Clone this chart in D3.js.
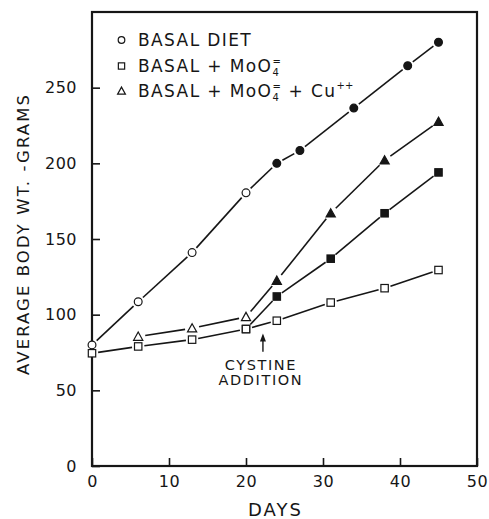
<!DOCTYPE html>
<html>
<head>
<meta charset="utf-8">
<script src="https://cdn.jsdelivr.net/npm/d3@7"></script>
<style>
  body { margin: 0; background: #fff; }
  text { font-family: "DejaVu Sans", sans-serif; fill: #161616; white-space: pre; }
</style>
</head>
<body>
<div id="chart"></div>
<script>
// values (days, grams)
const basalDays = [0, 6, 13, 20, 24, 27, 34, 41, 45]
const basalWt   = [80, 108.5, 141, 180.5, 200, 208.5, 236.5, 264.5, 280]

const moDays = [0, 6, 13, 20, 24, 31, 38, 45]
const moWt   = [74.5, 79, 83.5, 90.5, 96, 108, 117.5, 129.5]

const moCysDays = [20, 24, 31, 38, 45]
const moCysWt   = [90.5, 112, 137, 167, 194]

const cuDays = [6, 13, 20, 24, 31, 38, 45]
const cuWt   = [85.5, 91, 98.5, 122.5, 167, 202, 227.5]

const cystineDay = 22.2

const xTicks = [0, 10, 20, 30, 40, 50]
const yTicks = [0, 50, 100, 150, 200, 250]

const W = 489, H = 519
const margin = {top: 12, right: 12, bottom: 53, left: 92}
const width  = W - margin.left - margin.right
const height = H - margin.top - margin.bottom
const ink = "#161616"

let svg = d3.select("#chart").append("svg")
  .attr("width", W).attr("height", H)
  .append("g")
  .attr("transform", "translate(" + margin.left + "," + margin.top + ")")

let x = d3.scaleLinear().domain([0, 50]).range([0, width])
let y = d3.scaleLinear().domain([0, 300]).range([height, 0])

// axes, ticks pointing into the plot
let xAxis = svg.append("g")
  .attr("transform", "translate(0," + height + ")")
  .call(d3.axisBottom(x).tickValues(xTicks).tickSizeInner(-8).tickSizeOuter(0).tickPadding(10))
let yAxis = svg.append("g")
  .call(d3.axisLeft(y).tickValues(yTicks).tickSizeInner(-8).tickSizeOuter(0).tickPadding(15))

;[xAxis, yAxis].forEach(a => {
  a.select(".domain").remove()
  a.selectAll("line").attr("stroke", ink).attr("stroke-width", 1.6)
  a.selectAll("text").attr("font-size", 16).attr("fill", ink)
    .style("letter-spacing", "0.5px")
})

// frame
svg.append("rect")
  .attr("width", width).attr("height", height)
  .attr("fill", "none").attr("stroke", ink).attr("stroke-width", 2.2)

// axis titles
svg.append("text")
  .attr("x", x(25) - 9).attr("y", height + 50)
  .attr("text-anchor", "middle").attr("font-size", 18)
  .style("letter-spacing", "2px")
  .text("DAYS")

svg.append("text")
  .attr("transform", "translate(" + (28.5 - margin.left) + "," + (235 - margin.top) + ") rotate(-90)")
  .attr("text-anchor", "middle").attr("font-size", 16.5)
  .attr("textLength", 280).attr("lengthAdjust", "spacing")
  .text("AVERAGE BODY WT. -GRAMS")

// marker shapes
const markerSize = {circle: 3.9, square: 3.7, triangle: 4.6}

function drawMarker(g, shape, cx, cy, filled, k = 1) {
  let fill = filled ? ink : "#fff"
  if (shape === "circle") {
    g.append("circle").attr("cx", cx).attr("cy", cy).attr("r", markerSize.circle * k)
      .attr("fill", fill).attr("stroke", ink).attr("stroke-width", 1.2)
  } else if (shape === "square") {
    let s = markerSize.square * k
    g.append("rect").attr("x", cx - s).attr("y", cy - s).attr("width", 2 * s).attr("height", 2 * s)
      .attr("fill", fill).attr("stroke", ink).attr("stroke-width", 1.2)
  } else {
    let s = markerSize.triangle * k
    g.append("path")
      .attr("d", "M" + cx + "," + (cy - s) + "L" + (cx + s) + "," + (cy + s * 0.8) + "L" + (cx - s) + "," + (cy + s * 0.8) + "Z")
      .attr("fill", fill).attr("stroke", ink).attr("stroke-width", 1.2)
  }
}

// a series: segments stop short of each marker, like the hand drawn original
function drawSeries(days, wts, shape, fillAfterCystine) {
  let g = svg.append("g")
  let pts = days.map((d, i) => [x(d), y(wts[i])])
  let gap = markerSize[shape] + 2.5
  for (let i = 0; i < pts.length - 1; i++) {
    let [x0, y0] = pts[i], [x1, y1] = pts[i + 1]
    let len = Math.hypot(x1 - x0, y1 - y0)
    let ux = (x1 - x0) / len, uy = (y1 - y0) / len
    g.append("line")
      .attr("x1", x0 + ux * gap).attr("y1", y0 + uy * gap)
      .attr("x2", x1 - ux * gap).attr("y2", y1 - uy * gap)
      .attr("stroke", ink).attr("stroke-width", 1.6)
  }
  pts.forEach((p, i) => drawMarker(g, shape, p[0], p[1], fillAfterCystine && days[i] > cystineDay))
}

drawSeries(basalDays, basalWt, "circle", true)
drawSeries(moDays, moWt, "square", false)
drawSeries(moCysDays, moCysWt, "square", true)
drawSeries(cuDays, cuWt, "triangle", true)

// cystine addition arrow
let ax = x(cystineDay)
svg.append("line")
  .attr("x1", ax).attr("x2", ax)
  .attr("y1", y(75.5)).attr("y2", y(86))
  .attr("stroke", ink).attr("stroke-width", 1.4)
svg.append("path")
  .attr("d", "M" + ax + "," + y(87.5) + "l-3,8l6,0Z")
  .attr("fill", ink)
svg.append("text")
  .attr("x", ax - 2).attr("y", y(63.5))
  .attr("text-anchor", "middle").attr("font-size", 14.5)
  .style("letter-spacing", "1.6px")
  .text("CYSTINE")
svg.append("text")
  .attr("x", ax - 2).attr("y", y(53.5))
  .attr("text-anchor", "middle").attr("font-size", 14.5)
  .style("letter-spacing", "1.6px")
  .text("ADDITION")

// legend
let legend = svg.append("g").attr("transform", "translate(" + (121.5 - margin.left) + ",0)")
const legendRows = [
  {shape: "circle", yy: 28, base: 34},
  {shape: "square", yy: 54, base: 60},
  {shape: "triangle", yy: 79, base: 84.5}
]
legendRows.forEach(r => drawMarker(legend, r.shape, 0, r.yy, false, 0.85))

function legendText(parts, base) {
  let cx = 16.5
  parts.forEach(p => {
    if (p.sup !== undefined) {
      // stacked superscript / subscript (MoO4 with charge)
      let a = legend.append("text").attr("x", cx).attr("y", base - 7).attr("font-size", 10).text(p.sup)
      let b = legend.append("text").attr("x", cx).attr("y", base + 4).attr("font-size", 10).text(p.sub)
      cx += Math.max(a.node().getComputedTextLength(), b.node().getComputedTextLength()) + 1
    } else if (p.up !== undefined) {
      let t = legend.append("text").attr("x", cx).attr("y", base - 8).attr("font-size", 10).text(p.up)
      cx += t.node().getComputedTextLength() + 1
    } else {
      let t = legend.append("text").attr("x", cx).attr("y", base).attr("font-size", 17)
        .style("letter-spacing", "1.4px").text(p.txt)
      cx += t.node().getComputedTextLength()
    }
  })
}

legendText([{txt: "BASAL DIET"}], legendRows[0].base)
legendText([{txt: "BASAL + MoO"}, {sup: "=", sub: "4"}], legendRows[1].base)
legendText([{txt: "BASAL + MoO"}, {sup: "=", sub: "4"}, {txt: " + Cu"}, {up: "++"}], legendRows[2].base)
</script>
</body>
</html>
